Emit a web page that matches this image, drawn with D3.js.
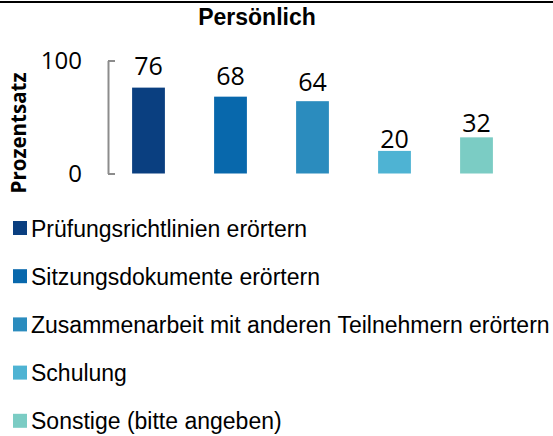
<!DOCTYPE html>
<html>
<head>
<meta charset="utf-8">
<script src="https://cdn.jsdelivr.net/npm/d3@7"></script>
<style>
  body { margin: 0; background: #fff; }
  svg { display: block; }
</style>
</head>
<body>
<div id="chart"></div>
<script>
// chart data
const categories = [
  "Prüfungsrichtlinien erörtern",
  "Sitzungsdokumente erörtern",
  "Zusammenarbeit mit anderen Teilnehmern erörtern",
  "Schulung",
  "Sonstige (bitte angeben)"
];
const values = [76, 68, 64, 20, 32];
const colors = ["#0a3f80", "#0868ac", "#2b8cbe", "#4eb3d3", "#7bccc4"];
const yTicks = [0, 100];

const width = 553, height = 436;

const svg = d3.select("#chart").append("svg")
    .attr("width", width)
    .attr("height", height);

// top rule
svg.append("line")
    .attr("x1", 0).attr("x2", width)
    .attr("y1", 2).attr("y2", 2)
    .attr("stroke", "#000")
    .attr("stroke-width", 2);

// title
svg.append("text")
    .attr("x", 257)
    .attr("y", 25)
    .attr("text-anchor", "middle")
    .style("font-family", "'Liberation Sans', Arial, sans-serif")
    .style("font-weight", "bold")
    .style("font-size", "23px")
    .text("Persönlich");

// scales
const x = d3.scaleBand()
    .domain(categories)
    .range([107.5, 517.5])
    .paddingInner(0.6)
    .paddingOuter(0.3);

const y = d3.scaleLinear()
    .domain([0, 100])
    .range([173.5, 60.5]);

// value labels sit on a slightly taller scale
const yLabel = d3.scaleLinear()
    .domain([0, 100])
    .range([173.5, 44]);

// y axis (bracket style)
const yAxis = d3.axisLeft(y)
    .tickValues(yTicks)
    .tickSize(-7)
    .tickPadding(26)
    .tickSizeOuter(0);

const gy = svg.append("g")
    .attr("transform", "translate(108,0)")
    .call(yAxis);

gy.select(".domain").attr("stroke", "#8c8c8c").attr("stroke-width", 2);
gy.selectAll(".tick line").attr("stroke", "#8c8c8c").attr("stroke-width", 2);
gy.selectAll(".tick text")
    .attr("fill", "#000")
    .style("font-family", "'Open Sans', sans-serif")
    .style("font-size", "24px");

// y title
svg.append("text")
    .attr("transform", "translate(26,133) rotate(-90)")
    .attr("text-anchor", "middle")
    .style("font-family", "'Open Sans', sans-serif")
    .style("font-weight", "bold")
    .style("font-size", "20.5px")
    .text("Prozentsatz");

// bars
svg.selectAll(".bar")
    .data(values)
    .join("rect")
    .attr("class", "bar")
    .attr("x", (d, i) => x(categories[i]))
    .attr("width", x.bandwidth())
    .attr("y", d => y(d))
    .attr("height", d => y(0) - y(d))
    .attr("fill", (d, i) => colors[i]);

// value labels
svg.selectAll(".val")
    .data(values)
    .join("text")
    .attr("class", "val")
    .attr("x", (d, i) => x(categories[i]) + x.bandwidth() / 2)
    .attr("y", d => yLabel(d))
    .attr("text-anchor", "middle")
    .style("font-family", "'Open Sans', sans-serif")
    .style("font-size", "25px")
    .text(d => d);

// legend
const legend = svg.append("g")
    .attr("transform", "translate(13,221)");

const item = legend.selectAll(".item")
    .data(categories)
    .join("g")
    .attr("class", "item")
    .attr("transform", (d, i) => `translate(0,${i * 48.2})`);

item.append("rect")
    .attr("width", 14)
    .attr("height", 14)
    .attr("fill", (d, i) => colors[i]);

item.append("text")
    .attr("x", 18)
    .attr("y", 15.5)
    .style("font-family", "'Liberation Sans', Arial, sans-serif")
    .style("font-size", "23px")
    .text(d => d);
</script>
</body>
</html>
